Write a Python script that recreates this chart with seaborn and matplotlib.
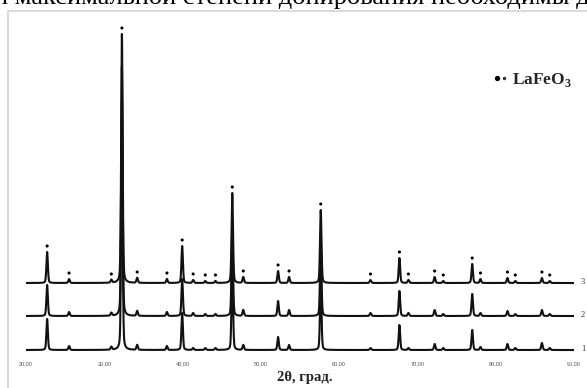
import numpy as np
import pandas as pd
import matplotlib
matplotlib.use("Agg")
import matplotlib.pyplot as plt
import seaborn as sns
from matplotlib.lines import Line2D
from matplotlib.legend_handler import HandlerTuple
from matplotlib.patches import Rectangle

# Reflection positions (2theta, deg) of the LaFeO3 phase
peak_2theta = [22.7, 25.5, 30.9, 32.25, 34.2, 38.0, 39.95, 41.35, 42.9, 44.2,
               46.35, 47.75, 52.2, 53.6, 57.65, 64.0, 67.7, 68.85, 72.2, 73.3,
               77.0, 78.05, 81.5, 82.5, 85.9, 86.9]
# Peak intensities of the three samples (arb. units)
int_1 = [31, 4, 3, 249, 5, 4, 37, 2, 2, 2, 90, 5, 13, 5, 73, 2, 25, 2, 6, 2,
         20, 3, 6, 2, 7, 2]
int_2 = [31, 4, 3, 249, 5, 4, 37, 3, 2, 2, 90, 6, 15, 6, 73, 3, 25, 3, 6, 2,
         22, 3, 5, 2, 6, 2]
int_3 = [31, 4, 3, 249, 5, 4, 37, 3, 2, 2, 90, 6, 12, 6, 73, 3, 25, 3, 6, 2,
         19, 4, 5, 2, 5, 2]
sample_ids = ["1", "2", "3"]
sample_shift = [0, 34, 67]
tick_pos = [20, 30, 40, 50, 60, 70, 80, 90]
tick_labels = ["20,00", "30,00", "40,00", "50,00", "60,00", "70,00", "80,00", "90,00"]

sns.set_theme(style="white")
plt.rcParams["font.family"] = ["Liberation Serif", "DejaVu Serif"]
plt.rcParams["mathtext.fontset"] = "custom"
plt.rcParams["mathtext.rm"] = "Liberation Serif:bold"
plt.rcParams["mathtext.bf"] = "Liberation Serif:bold"

W, H = 587, 388
fig = plt.figure(figsize=(W / 100, H / 100), dpi=100)
fig.patch.set_facecolor("white")

# axes box in pixels
x0, x1 = 26, 574
yb, yt = 352, 22
ax = fig.add_axes([x0 / W, 1 - yb / H, (x1 - x0) / W, (yb - yt) / H])
ax.set_facecolor("none")

# diffraction profiles built from the peak tables (pseudo-Voigt line shape)
tt = np.linspace(20, 90, 7001)
fwhm = 0.22
eta = 0.3


def profile(heights):
    y = np.zeros_like(tt)
    g = fwhm / 2
    sigma = fwhm / 2.3548
    for c, h in zip(peak_2theta, heights):
        lor = g ** 2 / ((tt - c) ** 2 + g ** 2)
        gau = np.exp(-0.5 * ((tt - c) / sigma) ** 2)
        y += h * (eta * lor + (1 - eta) * gau)
    return y


frames = []
for sid, shift, ints in zip(sample_ids, sample_shift, [int_1, int_2, int_3]):
    frames.append(pd.DataFrame({"tt": tt, "I": profile(ints) + shift, "sample": sid}))
data = pd.concat(frames, ignore_index=True)

for sid in sample_ids:
    sub = data[data["sample"] == sid]
    sns.lineplot(data=sub, x="tt", y="I", color="#111111", lw=1.5,
                 estimator=None, sort=False, ax=ax)

# phase markers above the peaks of sample 3
marks = pd.DataFrame({"tt": peak_2theta,
                      "I": [h + sample_shift[2] + 6 for h in int_3]})
sns.scatterplot(data=marks, x="tt", y="I", color="black", s=5,
                edgecolor="none", ax=ax, zorder=5)

# sample numbers at the right end of each trace
for sid, shift in zip(sample_ids, sample_shift):
    ax.text(90.9, shift + 1, sid, fontsize=6, color="#333333",
            va="center", ha="left", clip_on=False)

ax.set_xlim(20, 90)
ax.set_ylim(-2, yb - yt - 2)
ax.set_xticks(tick_pos)
ax.set_xticklabels(tick_labels, fontsize=4, color="#555555",
                   family="Liberation Sans")
ax.tick_params(axis="x", length=0, pad=7)
ax.set_yticks([])
ax.set_xlabel("")
ax.set_ylabel("")
for sp in ax.spines.values():
    sp.set_visible(False)

# legend
big = Line2D([], [], marker="o", ms=2.8, color="black", ls="none")
small = Line2D([], [], marker="o", ms=1.5, color="#333333", ls="none")
ax.legend(handles=[(big, small)], labels=["LaFeO$_3$"],
          handler_map={tuple: HandlerTuple(ndivide=None, pad=0.1)},
          loc="center left", bbox_to_anchor=(494 / W, 1 - 80 / H),
          bbox_transform=fig.transFigure, frameon=False,
          handlelength=0.75, handletextpad=0.3, borderpad=0, borderaxespad=0,
          prop={"family": "Liberation Serif", "weight": "bold", "size": 12.5})

# axis title
fig.text(305 / W, 1 - 378 / H, "2θ, град.", ha="center", va="center",
         fontsize=10.5, fontweight="bold", family="Liberation Serif", color="#222222")

# page frame around the chart
fig.add_artist(Rectangle((8 / W, -0.2), 1.2, 1.2 - 11 / H,
                         transform=fig.transFigure, fill=False,
                         edgecolor="#d4d4d4", lw=1.2))

# running text line above the chart
fig.text(-6 / W, 1 - 4 / H, "и максимальной степени допирования необходимы д",
         ha="left", va="baseline", fontsize=19, family="Liberation Serif",
         color="black")

fig.savefig("out.png", dpi=100, facecolor="white")
